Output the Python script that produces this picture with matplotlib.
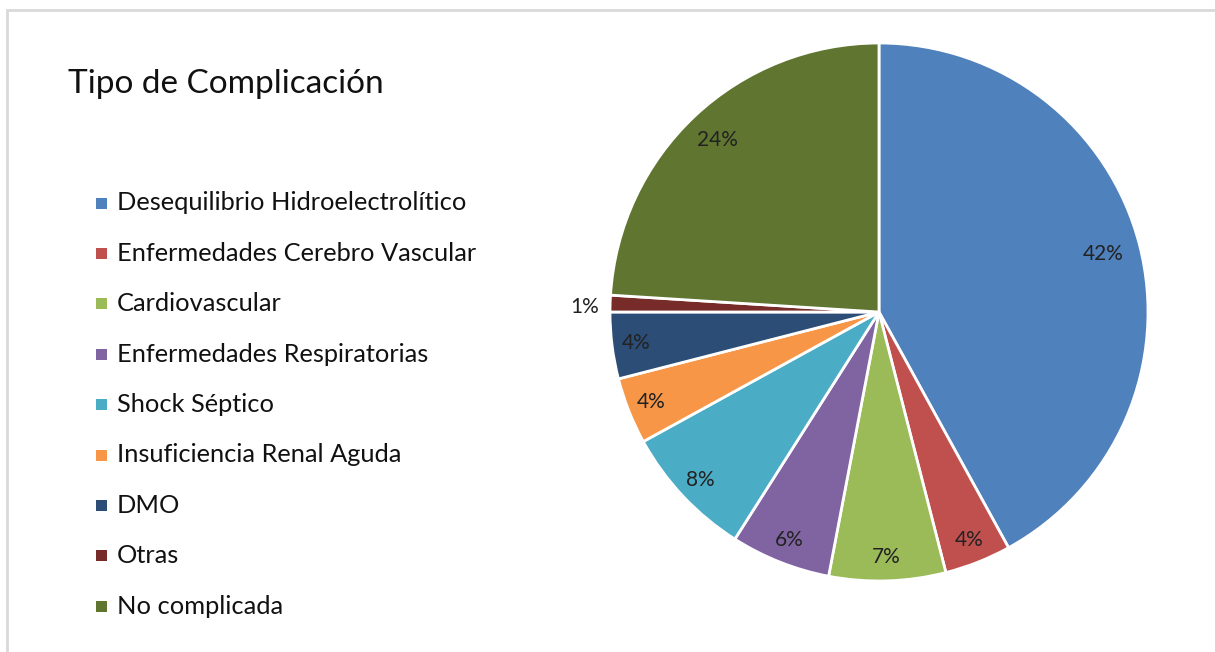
import matplotlib.pyplot as plt
from matplotlib.patches import Rectangle

# data
categories = ["Desequilibrio Hidroelectrolítico", "Enfermedades Cerebro Vascular",
              "Cardiovascular", "Enfermedades Respiratorias", "Shock Séptico",
              "Insuficiencia Renal Aguda", "DMO", "Otras", "No complicada"]
values = [42, 4, 7, 6, 8, 4, 4, 1, 24]
colors = ["#4F81BD", "#C0504D", "#9BBB59", "#8064A2", "#4BACC6",
          "#F79646", "#2C4D75", "#772C2A", "#5F7530"]

plt.rcParams['font.family'] = ['Lato', 'DejaVu Sans']

W, H = 1215, 652
fig = plt.figure(figsize=(W / 100, H / 100), dpi=100)

# light frame around the chart area
fig.patches.append(Rectangle((7 / W, -0.1), 1.2, (H - 10) / H + 0.1,
                             transform=fig.transFigure, fill=False,
                             edgecolor="#D9D9D9", linewidth=2))

# pie: centre ~ (879, 312), radius ~ 269 px
cx, cy, r = 879, 312, 269
ax = fig.add_axes([(cx - r) / W, (H - cy - r) / H, 2 * r / W, 2 * r / H])
wedges, texts, autotexts = ax.pie(
    values, colors=colors, startangle=90, counterclock=False,
    autopct="%d%%", pctdistance=0.91,
    wedgeprops=dict(edgecolor="white", linewidth=2),
    textprops=dict(fontsize=15, color="#222222"))
ax.set_xlim(-1, 1)
ax.set_ylim(-1, 1)
ax.set_aspect("equal")

# big slices have their labels a little further in
for i, f in ((0, 0.86 / 0.91), (8, 0.875 / 0.91)):
    x, y = autotexts[i].get_position()
    autotexts[i].set_position((x * f, y * f))
# the small slice gets its label outside
autotexts[7].set_position((-1.095, 0.02))

fig.text(68 / W, 1 - 84 / H, "Tipo de Complicación", fontsize=24,
         va="center", ha="left", color="#111111")

# legend drawn by hand so spacing matches
for i, (cat, col) in enumerate(zip(categories, colors)):
    y = 203 + i * 50.4
    fig.patches.append(Rectangle((96 / W, 1 - (y + 5.5) / H), 11 / W, 11 / H,
                                 transform=fig.transFigure, facecolor=col,
                                 edgecolor="none"))
    fig.text(117 / W, 1 - y / H, cat, fontsize=18.3, va="center",
             ha="left", color="#111111")

fig.savefig("out.png", dpi=100)
